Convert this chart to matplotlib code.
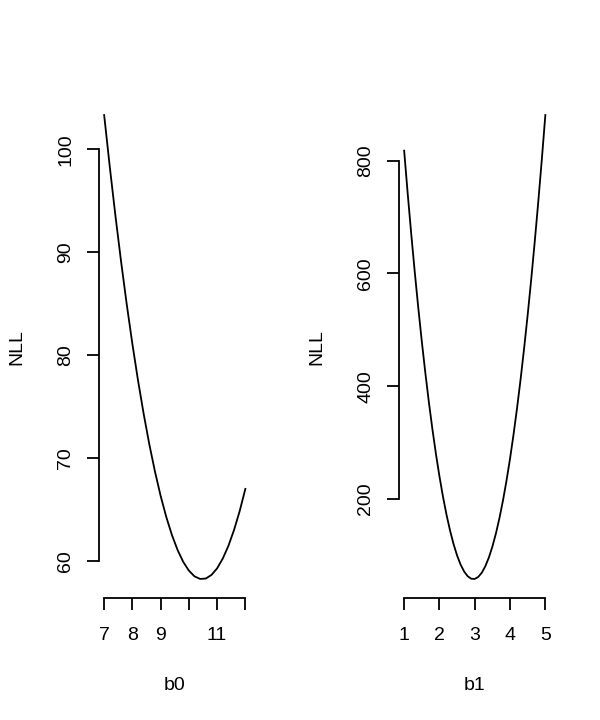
import matplotlib
matplotlib.use("Agg")
import matplotlib.pyplot as plt

# ── Data ─────────────────────────────────────────────────────────────────────
b0 = [7.0, 7.2, 7.4, 7.6, 7.8, 8.0, 8.2, 8.4, 8.6, 8.8, 9.0, 9.2, 9.4,
      9.6, 9.8, 10.0, 10.2, 10.4, 10.6, 10.8, 11.0, 11.2, 11.4, 11.6, 11.8, 12.0]
nll_b0 = [103.35, 98.30, 93.54, 89.09, 84.93, 81.08, 77.52, 74.27, 71.31,
          68.66, 66.30, 64.25, 62.49, 61.04, 59.88, 59.03, 58.47, 58.22,
          58.26, 58.61, 59.25, 60.20, 61.44, 62.99, 64.83, 66.98]

b1 = [1.0, 1.1, 1.2, 1.3, 1.4, 1.5, 1.6, 1.7, 1.8, 1.9, 2.0, 2.1, 2.2, 2.3,
      2.4, 2.5, 2.6, 2.7, 2.8, 2.9, 3.0, 3.1, 3.2, 3.3, 3.4, 3.5, 3.6, 3.7,
      3.8, 3.9, 4.0, 4.1, 4.2, 4.3, 4.4, 4.5, 4.6, 4.7, 4.8, 4.9, 5.0]
nll_b1 = [817.5, 742.0, 670.4, 602.8, 539.1, 479.4, 423.7, 371.9, 324.0,
          280.1, 240.2, 204.2, 172.2, 144.1, 120.0, 99.8, 83.6, 71.4, 63.1,
          58.7, 58.3, 61.9, 69.4, 80.9, 96.3, 115.7, 139.0, 166.3, 197.5,
          232.7, 271.8, 314.9, 362.0, 413.0, 468.0, 526.9, 589.7, 656.6,
          727.3, 802.1, 880.7]

b0_ticks = [7, 8, 9, 10, 11, 12]
b0_labels = ["7", "8", "9", "", "11", ""]
nll_b0_ticks = [60, 70, 80, 90, 100]
b1_ticks = [1, 2, 3, 4, 5]
b1_labels = ["1", "2", "3", "4", "5"]
nll_b1_ticks = [200, 400, 600, 800]

plt.rcParams["font.family"] = ["Liberation Sans", "DejaVu Sans"]

W, H = 600, 720
fig = plt.figure(figsize=(W / 100, H / 100), dpi=100)
fig.patch.set_facecolor("white")

top_px, bot_px = 96.5, 597.5
panels = [
    (98.5, b0, nll_b0, b0_ticks, b0_labels, nll_b0_ticks, "b0"),
    (398.5, b1, nll_b1, b1_ticks, b1_labels, nll_b1_ticks, "b1"),
]

for left_px, x, y, xt, xl, yt, xname in panels:
    ax = fig.add_axes([left_px / W, 1 - bot_px / H, 152.5 / W, (bot_px - top_px) / H])
    ax.plot(x, y, color="black", lw=1.3)
    ax.margins(x=0.04, y=0.04)

    for side in ["top", "right"]:
        ax.spines[side].set_visible(False)
    for side in ["left", "bottom"]:
        ax.spines[side].set_linewidth(1.3)
    ax.spines["bottom"].set_bounds(xt[0], xt[-1])
    ax.spines["left"].set_bounds(yt[0], yt[-1])

    ax.set_xticks(xt)
    ax.set_xticklabels(xl)
    ax.set_yticks(yt)
    ax.tick_params(axis="both", length=8.8, width=1.3, labelsize=14, colors="black")
    ax.tick_params(axis="x", pad=12.5)
    ax.tick_params(axis="y", pad=8.5, labelrotation=90)
    for lab in ax.get_yticklabels():
        lab.set_va("center")

    ax.set_xlabel(xname, fontsize=14)
    ax.xaxis.label.set_va("center")
    ax.xaxis.set_label_coords(0.5, -0.1766)
    ax.set_ylabel("NLL", fontsize=14)
    ax.yaxis.label.set_va("center")
    ax.yaxis.set_label_coords(-0.533, 0.5)

plt.savefig("out.png", dpi=100)
